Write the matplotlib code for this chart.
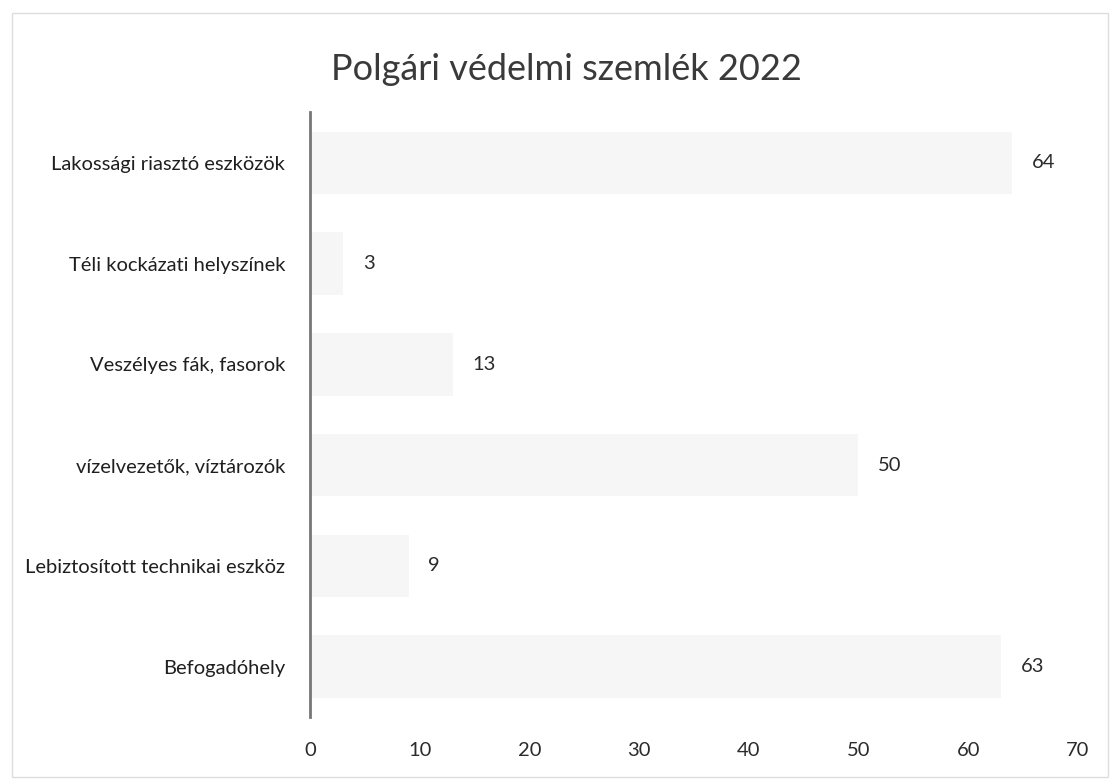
import matplotlib.pyplot as plt
from matplotlib.patches import Rectangle

categories = ["Lakossági riasztó eszközök", "Téli kockázati helyszínek",
              "Veszélyes fák, fasorok", "vízelvezetők, víztározók",
              "Lebiztosított technikai eszköz", "Befogadóhely"]
values = [64, 3, 13, 50, 9, 63]
xticks = [0, 10, 20, 30, 40, 50, 60, 70]

plt.rcParams['font.family'] = ['Lato', 'DejaVu Sans']

fig = plt.figure(figsize=(11.16, 7.79), dpi=100)
ax = fig.add_axes([0.2778, 0.0796, 0.688, 0.776])

pos = list(range(len(categories)))
ax.barh(pos, values, height=0.62, color='#f6f6f6', edgecolor='none')
for p, v in zip(pos, values):
    ax.text(v + 1.8, p, str(v), va='center', ha='left', fontsize=14.5, color='#2b2b2b')

ax.set_ylim(len(categories) - 0.5, -0.5)
ax.set_xlim(0, 70)
ax.set_yticks(pos)
ax.set_yticklabels(categories, fontsize=14.5, color='#1f1f1f')
ax.set_xticks(xticks)
ax.set_xticklabels([str(t) for t in xticks], fontsize=14.5, color='#2b2b2b')
ax.tick_params(axis='x', length=0, pad=18)
ax.tick_params(axis='y', length=0, pad=18)

for s in ['top', 'right', 'bottom']:
    ax.spines[s].set_visible(False)
ax.spines['left'].set_color('#777777')
ax.spines['left'].set_linewidth(2)

fig.text(0.508, 1 - 70 / 779, "Polgári védelmi szemlék 2022", ha='center', va='center',
         fontsize=26, color='#3a3a3a')

fig.patches.append(Rectangle((12 / 1116, 2 / 779), 1096 / 1116, 764 / 779,
                             transform=fig.transFigure, fill=False,
                             edgecolor='#dddddd', linewidth=1))

fig.savefig("out.png", dpi=100)
